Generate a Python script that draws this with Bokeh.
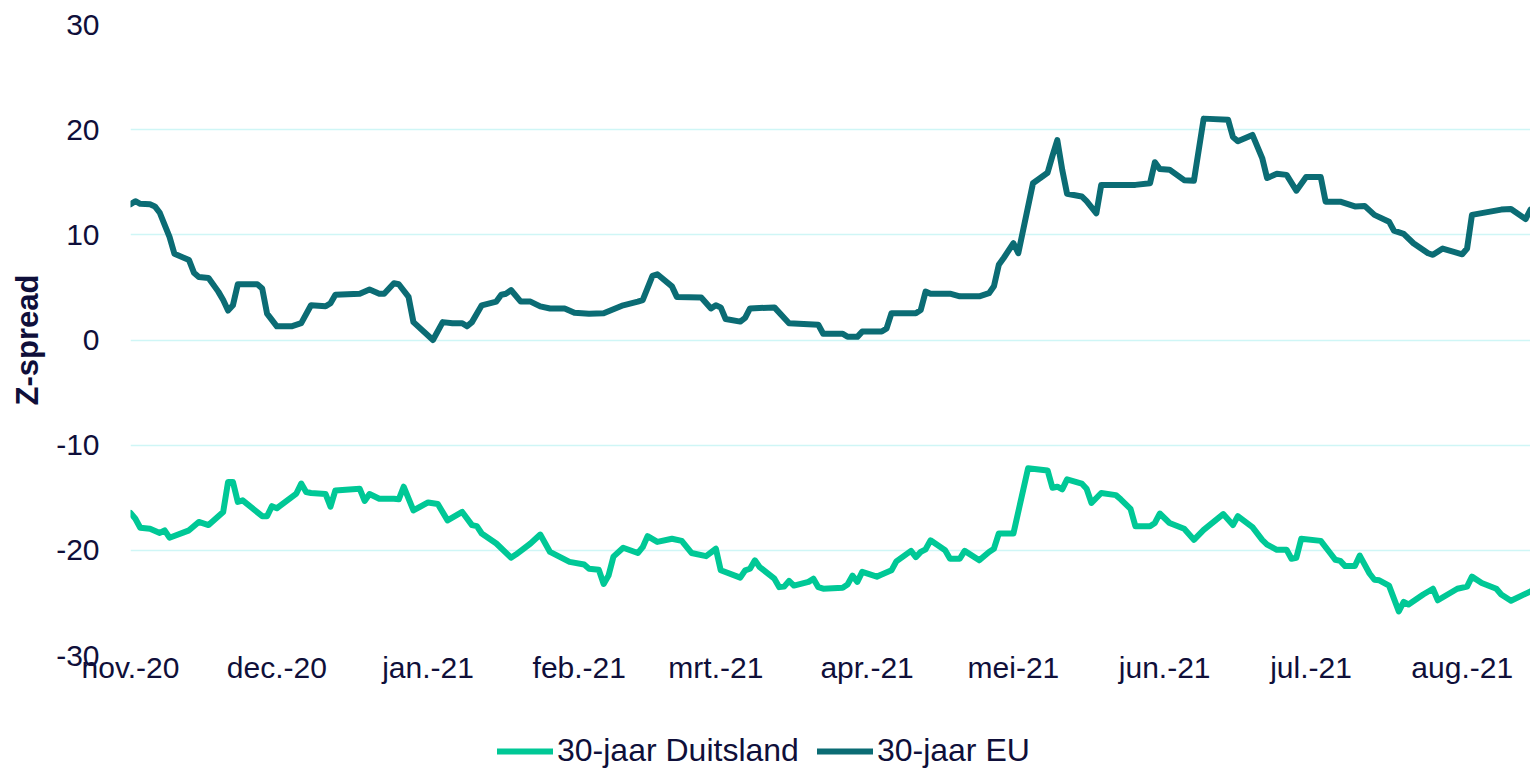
import pandas as pd
from bokeh.plotting import figure
from bokeh.layouts import column
from bokeh.models import Range1d, FixedTicker, Legend, LegendItem
from bokeh.embed import file_html
from bokeh.resources import INLINE

# ---- data ----
tick_dates = ["2020-11-01", "2020-12-01", "2021-01-01", "2021-02-01", "2021-03-01",
              "2021-04-01", "2021-05-01", "2021-06-01", "2021-07-01", "2021-08-01"]
tick_labels = ["nov.-20", "dec.-20", "jan.-21", "feb.-21", "mrt.-21",
               "apr.-21", "mei-21", "jun.-21", "jul.-21", "aug.-21"]
y_ticks = [-30, -20, -10, 0, 10, 20, 30]
y_tick_labels = ["-30", "-20", "-10", "0", "10", "20", "30"]

eu_dates = [
    "2020-11-01", "2020-11-02", "2020-11-03", "2020-11-05", "2020-11-06", "2020-11-07", "2020-11-08",
    "2020-11-09", "2020-11-10", "2020-11-13", "2020-11-14", "2020-11-15", "2020-11-17", "2020-11-19",
    "2020-11-20", "2020-11-21", "2020-11-22", "2020-11-23", "2020-11-27", "2020-11-28", "2020-11-29",
    "2020-12-01", "2020-12-04", "2020-12-06", "2020-12-08", "2020-12-11", "2020-12-12", "2020-12-13",
    "2020-12-18", "2020-12-20", "2020-12-22", "2020-12-23", "2020-12-25", "2020-12-26", "2020-12-28",
    "2020-12-29", "2021-01-02", "2021-01-04", "2021-01-06", "2021-01-08", "2021-01-09", "2021-01-10",
    "2021-01-12", "2021-01-15", "2021-01-16", "2021-01-17", "2021-01-18", "2021-01-20", "2021-01-22",
    "2021-01-24", "2021-01-26", "2021-01-29", "2021-01-31", "2021-02-03", "2021-02-06", "2021-02-10",
    "2021-02-13", "2021-02-14", "2021-02-16", "2021-02-17", "2021-02-20", "2021-02-21", "2021-02-26",
    "2021-02-28", "2021-03-01", "2021-03-02", "2021-03-03", "2021-03-06", "2021-03-07", "2021-03-08",
    "2021-03-13", "2021-03-16", "2021-03-22", "2021-03-23", "2021-03-27", "2021-03-28", "2021-03-30",
    "2021-03-31", "2021-04-04", "2021-04-05", "2021-04-06", "2021-04-11", "2021-04-12", "2021-04-13",
    "2021-04-14", "2021-04-18", "2021-04-20", "2021-04-24", "2021-04-26", "2021-04-27", "2021-04-28",
    "2021-04-29", "2021-05-01", "2021-05-02", "2021-05-05", "2021-05-08", "2021-05-09", "2021-05-10",
    "2021-05-11", "2021-05-12", "2021-05-15", "2021-05-16", "2021-05-18", "2021-05-19", "2021-05-26",
    "2021-05-29", "2021-05-30", "2021-05-31", "2021-06-02", "2021-06-05", "2021-06-07", "2021-06-09",
    "2021-06-14", "2021-06-15", "2021-06-16", "2021-06-19", "2021-06-21", "2021-06-22", "2021-06-24",
    "2021-06-26", "2021-06-28", "2021-06-30", "2021-07-03", "2021-07-04", "2021-07-07", "2021-07-10",
    "2021-07-12", "2021-07-14", "2021-07-17", "2021-07-18", "2021-07-20", "2021-07-22", "2021-07-25",
    "2021-07-26", "2021-07-28", "2021-08-01", "2021-08-02", "2021-08-03", "2021-08-09", "2021-08-11",
    "2021-08-14", "2021-08-15",
]
eu_values = [
    12.9, 13.2, 12.95, 12.9, 12.7, 12.1, 10.95,
    9.8, 8.2, 7.6, 6.4, 6.0, 5.9, 4.6,
    3.8, 2.8, 3.3, 5.3, 5.3, 4.9, 2.5,
    1.3, 1.3, 1.6, 3.3, 3.2, 3.5, 4.3,
    4.4, 4.8, 4.4, 4.4, 5.4, 5.3, 4.1,
    1.7, 0.0, 1.7, 1.6, 1.6, 1.3, 1.7,
    3.3, 3.65, 4.3, 4.4, 4.75, 3.65, 3.65,
    3.2, 3.0, 3.0, 2.6, 2.5, 2.55, 3.3,
    3.65, 3.8, 6.1, 6.25, 5.1, 4.1, 4.05,
    3.0, 3.3, 3.1, 2.0, 1.75, 2.1, 3.0,
    3.1, 1.6, 1.45, 0.6, 0.6, 0.3, 0.3,
    0.8, 0.8, 1.1, 2.55, 2.55, 2.85, 4.6,
    4.4, 4.4, 4.15, 4.15, 4.45, 5.1, 7.15,
    7.8, 9.2, 8.25, 14.9, 15.9, 17.5, 19.0,
    16.2, 13.9, 13.65, 13.2, 12.05, 14.75, 14.75,
    14.9, 16.9, 16.25, 16.2, 15.2, 15.15, 21.05,
    20.95, 19.3, 18.9, 19.5, 17.3, 15.4, 15.8,
    15.7, 14.2, 15.5, 15.5, 13.15, 13.15, 12.7,
    12.75, 11.9, 11.25, 10.4, 10.1, 9.2, 8.25,
    8.1, 8.7, 8.15, 8.7, 11.9, 12.4, 12.45,
    11.5, 12.4,
]

de_dates = [
    "2020-11-01", "2020-11-02", "2020-11-03", "2020-11-05", "2020-11-07", "2020-11-08", "2020-11-09",
    "2020-11-13", "2020-11-15", "2020-11-17", "2020-11-20", "2020-11-21", "2020-11-22", "2020-11-23",
    "2020-11-24", "2020-11-28", "2020-11-29", "2020-11-30", "2020-12-01", "2020-12-05", "2020-12-06",
    "2020-12-07", "2020-12-08", "2020-12-11", "2020-12-12", "2020-12-13", "2020-12-18", "2020-12-19",
    "2020-12-20", "2020-12-22", "2020-12-25", "2020-12-26", "2020-12-27", "2020-12-29", "2021-01-01",
    "2021-01-03", "2021-01-05", "2021-01-08", "2021-01-10", "2021-01-11", "2021-01-12", "2021-01-15",
    "2021-01-18", "2021-01-19", "2021-01-22", "2021-01-24", "2021-01-26", "2021-01-30", "2021-02-02",
    "2021-02-03", "2021-02-05", "2021-02-06", "2021-02-07", "2021-02-08", "2021-02-10", "2021-02-13",
    "2021-02-14", "2021-02-15", "2021-02-17", "2021-02-20", "2021-02-22", "2021-02-24", "2021-02-27",
    "2021-03-01", "2021-03-02", "2021-03-06", "2021-03-07", "2021-03-08", "2021-03-09", "2021-03-10",
    "2021-03-13", "2021-03-14", "2021-03-15", "2021-03-16", "2021-03-17", "2021-03-20", "2021-03-21",
    "2021-03-22", "2021-03-23", "2021-03-27", "2021-03-28", "2021-03-29", "2021-03-30", "2021-03-31",
    "2021-04-03", "2021-04-04", "2021-04-06", "2021-04-07", "2021-04-10", "2021-04-11", "2021-04-12",
    "2021-04-13", "2021-04-14", "2021-04-17", "2021-04-18", "2021-04-20", "2021-04-21", "2021-04-24",
    "2021-04-26", "2021-04-27", "2021-04-28", "2021-05-01", "2021-05-04", "2021-05-08", "2021-05-09",
    "2021-05-10", "2021-05-11", "2021-05-12", "2021-05-15", "2021-05-16", "2021-05-17", "2021-05-19",
    "2021-05-22", "2021-05-23", "2021-05-25", "2021-05-26", "2021-05-29", "2021-05-30", "2021-05-31",
    "2021-06-02", "2021-06-05", "2021-06-07", "2021-06-09", "2021-06-13", "2021-06-15", "2021-06-16",
    "2021-06-19", "2021-06-21", "2021-06-22", "2021-06-24", "2021-06-26", "2021-06-27", "2021-06-28",
    "2021-06-29", "2021-07-03", "2021-07-05", "2021-07-06", "2021-07-07", "2021-07-08", "2021-07-10",
    "2021-07-11", "2021-07-13", "2021-07-14", "2021-07-15", "2021-07-17", "2021-07-19", "2021-07-20",
    "2021-07-21", "2021-07-24", "2021-07-26", "2021-07-27", "2021-07-31", "2021-08-02", "2021-08-03",
    "2021-08-05", "2021-08-08", "2021-08-09", "2021-08-11", "2021-08-15",
]
de_values = [
    -16.45, -17.0, -17.85, -17.95, -18.35, -18.1, -18.8,
    -18.1, -17.3, -17.6, -16.35, -13.5, -13.5, -15.4,
    -15.25, -16.75, -16.75, -15.8, -16.0, -14.6, -13.65,
    -14.45, -14.55, -14.65, -15.85, -14.3, -14.15, -15.3,
    -14.65, -15.1, -15.1, -15.15, -13.95, -16.2, -15.45,
    -15.6, -17.15, -16.35, -17.6, -17.7, -18.4, -19.35,
    -20.7, -20.4, -19.35, -18.5, -20.15, -21.1, -21.35,
    -21.75, -21.85, -23.2, -22.4, -20.6, -19.75, -20.25,
    -19.7, -18.65, -19.2, -18.9, -19.1, -20.25, -20.55,
    -19.85, -21.9, -22.6, -21.9, -21.75, -20.95, -21.6,
    -22.7, -23.5, -23.45, -22.9, -23.35, -23.0, -22.7,
    -23.5, -23.65, -23.55, -23.25, -22.4, -23.0, -22.05,
    -22.5, -22.3, -21.9, -21.05, -20.05, -20.65, -20.15,
    -19.9, -19.05, -20.0, -20.8, -20.8, -20.05, -20.95,
    -20.15, -19.85, -18.4, -18.4, -12.2, -12.4, -14.05,
    -13.95, -14.2, -13.25, -13.65, -14.15, -15.5, -14.55,
    -14.75, -15.15, -16.05, -17.7, -17.7, -17.4, -16.5,
    -17.4, -17.95, -19.0, -18.05, -16.55, -17.6, -16.75,
    -17.8, -19.0, -19.45, -19.95, -19.95, -20.8, -20.7,
    -18.9, -19.1, -20.3, -20.9, -21.0, -21.5, -21.5,
    -20.5, -22.2, -22.8, -22.85, -23.35, -25.8, -24.9,
    -25.15, -24.2, -23.65, -24.75, -23.65, -23.45, -22.5,
    -23.1, -23.65, -24.2, -24.8, -23.9,
]

series_names = ["30-jaar Duitsland", "30-jaar EU"]
y_axis_title = "Z-spread"

# ---- style ----
TEXT = "#0f0f3a"
FONT = "Liberation Sans"
C_DE = "#00c896"
C_EU = "#0b6c74"

x_start, x_end = pd.Timestamp("2020-11-01"), pd.Timestamp("2021-08-15")

p = figure(width=1530, height=700, x_axis_type="datetime",
           output_backend="svg", toolbar_location=None,
           min_border_left=130, min_border_right=0, min_border_top=24,
           min_border_bottom=45)
p.x_range = Range1d(x_start, x_end)
p.y_range = Range1d(-30, 30)
p.outline_line_color = None
p.background_fill_color = "white"
p.border_fill_color = "white"

p.line(pd.to_datetime(de_dates), de_values, line_color=C_DE, line_width=6,
       line_join="round", line_cap="round")
p.line(pd.to_datetime(eu_dates), eu_values, line_color=C_EU, line_width=6,
       line_join="round", line_cap="round")

tick_ms = [int(pd.Timestamp(d).value // 10**6) for d in tick_dates]
p.xaxis.ticker = FixedTicker(ticks=tick_ms)
p.xaxis.major_label_overrides = {t: lab for t, lab in zip(tick_ms, tick_labels)}
p.yaxis.ticker = FixedTicker(ticks=y_ticks)
p.yaxis.major_label_overrides = {t: lab for t, lab in zip(y_ticks, y_tick_labels)}

for ax in (p.xaxis[0], p.yaxis[0]):
    ax.axis_line_color = None
    ax.major_tick_line_color = None
    ax.minor_tick_line_color = None
    ax.major_tick_out = 0
    ax.major_tick_in = 0
    ax.minor_tick_out = 0
    ax.minor_tick_in = 0
    ax.major_label_text_font = FONT
    ax.major_label_text_font_size = "30px"
    ax.major_label_text_color = TEXT

p.xaxis.major_label_standoff = -5
p.yaxis.major_label_standoff = 31
p.yaxis.axis_label = y_axis_title
p.yaxis.axis_label_text_font = FONT
p.yaxis.axis_label_text_font_size = "31px"
p.yaxis.axis_label_text_font_style = "bold"
p.yaxis.axis_label_text_color = TEXT
p.yaxis.axis_label_standoff = 8

p.xgrid.grid_line_color = None
p.ygrid.grid_line_color = "#cff6f6"
p.ygrid.grid_line_width = 1.5

# ---- legend strip below the chart (same series, outside its visible range) ----
lg = figure(width=1530, height=69, x_axis_type="datetime",
            output_backend="svg", toolbar_location=None,
            x_axis_location=None, y_axis_location=None,
            min_border_left=0, min_border_right=0, min_border_top=0, min_border_bottom=0)
lg.outline_line_color = None
lg.xgrid.grid_line_color = None
lg.ygrid.grid_line_color = None
lg.x_range = Range1d(x_start, x_end)
lg.y_range = Range1d(100, 101)
k_de = lg.line(pd.to_datetime(de_dates), de_values, line_color=C_DE, line_width=6,
               line_cap="round")
k_eu = lg.line(pd.to_datetime(eu_dates), eu_values, line_color=C_EU, line_width=6,
               line_cap="round")

legend = Legend(items=[LegendItem(label=series_names[0], renderers=[k_de]),
                       LegendItem(label=series_names[1], renderers=[k_eu])],
                orientation="horizontal", location=(367, 0))
legend.label_text_font = FONT
legend.label_text_font_size = "32px"
legend.label_text_color = TEXT
legend.glyph_width = 56
legend.glyph_height = 24
legend.label_standoff = 4
legend.spacing = 18
legend.padding = 0
legend.margin = 0
legend.border_line_color = None
legend.background_fill_alpha = 0
lg.add_layout(legend, "center")

layout = column(p, lg, spacing=0)
open("out.html", "w").write(file_html(layout, INLINE))
